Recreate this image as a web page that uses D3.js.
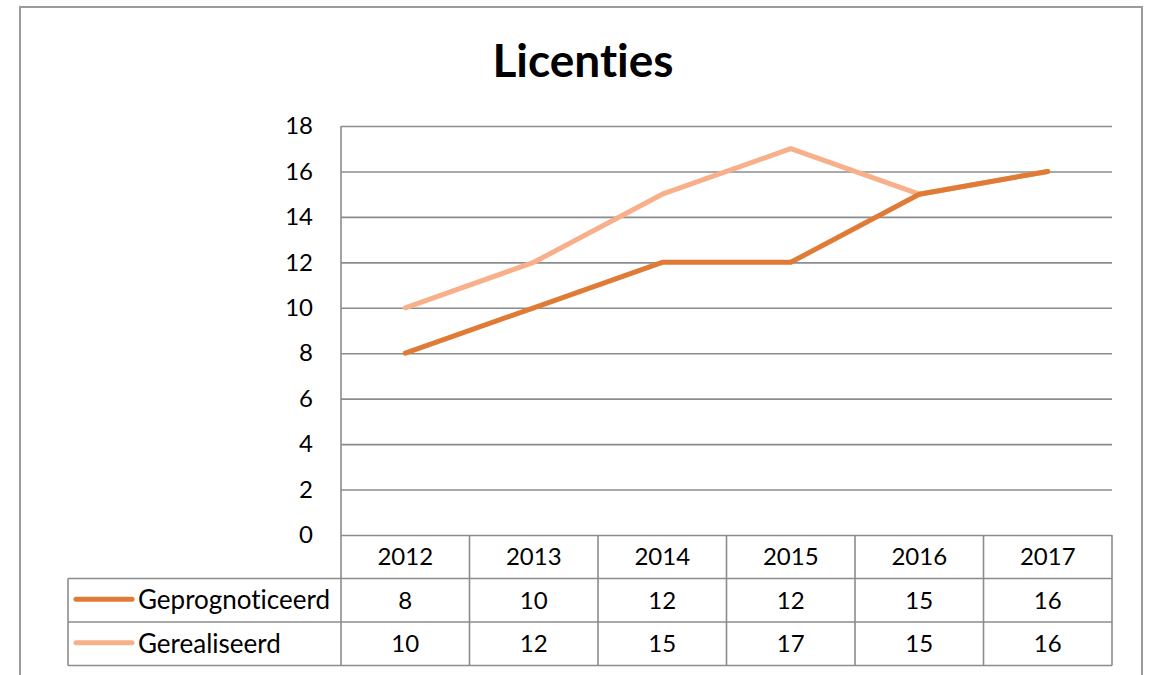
<!DOCTYPE html>
<html><head><meta charset="utf-8">
<script src="https://cdn.jsdelivr.net/npm/d3@7"></script>
<style>body{margin:0;background:#fff}svg{display:block}text{font-family:Lato,"Open Sans",sans-serif;fill:#000;font-variant-ligatures:none;font-feature-settings:"liga" 0}</style>
</head><body><svg id="c" width="1151" height="675"></svg>
<script>
const title = "Licenties";
const years = ["2012","2013","2014","2015","2016","2017"];
const seriesNames = ["Geprognoticeerd","Gerealiseerd"];
const geprognoticeerd = [8,10,12,12,15,16];
const gerealiseerd = [10,12,15,17,15,16];
const yTicks = [0,2,4,6,8,10,12,14,16,18];
const colors = ["#E07B35","#F7B08A"];

(function(){
const svg = d3.select("#c");
const pLeft = 341, pRight = 1112, pTop = 126, pBottom = 535;
const rowH = 43.5, tableLeft = 68;
const grid = "#8c8c8c";

svg.append("rect").attr("x",20).attr("y",7).attr("width",1122).attr("height",720)
  .attr("fill","none").attr("stroke","#9a9a9a").attr("stroke-width",2);

const x = d3.scaleBand().domain(years).range([pLeft,pRight]);
const y = d3.scaleLinear().domain([0,18]).range([pBottom,pTop]);

svg.append("text").attr("x",583).attr("y",77).attr("text-anchor","middle")
  .style("font-weight","700").style("font-size","46px").text(title);

const yAxis = d3.axisLeft(y).tickValues(yTicks).tickSize(-(pRight-pLeft)).tickPadding(28);
const ga = svg.append("g").attr("transform",`translate(${pLeft},0)`).call(yAxis);
ga.select(".domain").remove();
ga.selectAll(".tick line").attr("stroke",grid).attr("stroke-width",1.6);
ga.selectAll(".tick text").style("font-size","24px").attr("fill","#000").attr("font-family","Lato");

svg.append("line").attr("x1",pLeft).attr("x2",pLeft).attr("y1",pTop).attr("y2",pBottom+3*rowH)
  .attr("stroke",grid).attr("stroke-width",1.6);

for (let i=1;i<=3;i++){
  svg.append("line").attr("x1",tableLeft).attr("x2",pRight)
    .attr("y1",pBottom+i*rowH).attr("y2",pBottom+i*rowH).attr("stroke",grid).attr("stroke-width",1.6);
}
svg.append("line").attr("x1",tableLeft).attr("x2",tableLeft).attr("y1",pBottom+rowH).attr("y2",pBottom+3*rowH)
  .attr("stroke",grid).attr("stroke-width",1.6);
years.forEach(yr=>{
  const xe = x(yr)+x.bandwidth();
  svg.append("line").attr("x1",xe).attr("x2",xe).attr("y1",pBottom).attr("y2",pBottom+3*rowH)
    .attr("stroke",grid).attr("stroke-width",1.6);
});

svg.selectAll("text.yr").data(years).join("text").attr("class","yr")
  .attr("x",d=>x(d)+x.bandwidth()/2).attr("y",pBottom+rowH/2).attr("dy","0.35em")
  .attr("text-anchor","middle").style("font-size","24px").text(d=>d);

[geprognoticeerd,gerealiseerd].forEach((vals,r)=>{
  const cy = pBottom+rowH*(r+1)+rowH/2;
  svg.selectAll(null).data(vals).join("text")
    .attr("x",(d,i)=>x(years[i])+x.bandwidth()/2).attr("y",cy).attr("dy","0.35em")
    .attr("text-anchor","middle").style("font-size","24px").text(d=>d);
  svg.append("line").attr("x1",76).attr("x2",132).attr("y1",cy-1).attr("y2",cy-1)
    .attr("stroke",colors[r]).attr("stroke-width",5).attr("stroke-linecap","round");
  svg.append("text").attr("x",138).attr("y",cy).attr("dy","0.35em")
    .style("font-size","26px").text(seriesNames[r]);
});

const line = d3.line().x((d,i)=>x(years[i])+x.bandwidth()/2).y(d=>y(d));
[[gerealiseerd,colors[1]],[geprognoticeerd,colors[0]]].forEach(([vals,c])=>{
  svg.append("path").attr("d",line(vals)).attr("fill","none")
    .attr("stroke",c).attr("stroke-width",5)
    .attr("stroke-linejoin","round").attr("stroke-linecap","round");
});
})();
</script></body></html>
